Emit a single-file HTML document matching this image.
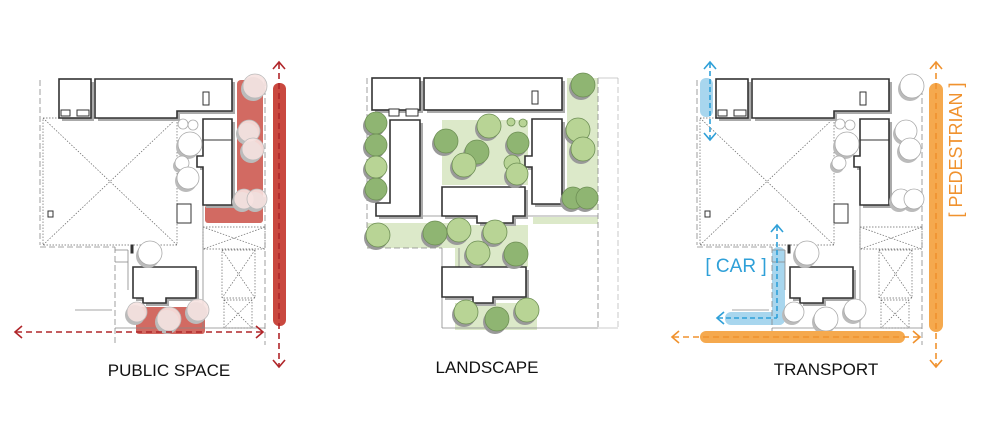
<!DOCTYPE html>
<html><head><meta charset="utf-8"><style>
html,body{margin:0;padding:0;background:#fff;width:1000px;height:435px;overflow:hidden}
svg{display:block}
.lbl{font-family:"Liberation Sans",sans-serif;font-size:17px;fill:#111}
</style></head><body>
<svg width="1000" height="435" viewBox="0 0 1000 435" xmlns="http://www.w3.org/2000/svg">
<defs>
<g id="base">
  <g fill="none" stroke="#666" stroke-width="0.7" stroke-dasharray="1.5 1.5">
    <rect x="43" y="118" width="134" height="127"/>
    <line x1="43" y1="118" x2="177" y2="245"/><line x1="177" y1="118" x2="43" y2="245"/>
    <rect x="203" y="227" width="62" height="22"/><line x1="203" y1="227" x2="265" y2="249"/><line x1="265" y1="227" x2="203" y2="249"/>
    <rect x="222" y="250" width="33" height="48"/><line x1="222" y1="250" x2="255" y2="298"/><line x1="255" y1="250" x2="222" y2="298"/>
    <rect x="224" y="300" width="28" height="28"/><line x1="224" y1="300" x2="252" y2="328"/><line x1="252" y1="300" x2="224" y2="328"/>
  </g>
  <g fill="none" stroke="#888" stroke-width="0.8">
    <line x1="40" y1="80" x2="40" y2="245" stroke-dasharray="6 3"/>
    <line x1="40" y1="247" x2="115" y2="247" stroke-dasharray="6 3"/>
    <line x1="115" y1="247" x2="115" y2="345" stroke-dasharray="6 3"/>
    <line x1="265" y1="80" x2="265" y2="345" stroke-dasharray="6 3"/>
    <line x1="115" y1="328" x2="265" y2="328"/>
    <line x1="203" y1="205" x2="203" y2="328"/>
    <line x1="75" y1="310" x2="112" y2="310"/>
    <line x1="115" y1="250" x2="128" y2="250"/><line x1="115" y1="262" x2="128" y2="262"/><line x1="128" y1="250" x2="128" y2="290"/>
  </g>
  <g fill="#aaa">
    <rect x="62" y="82" width="32" height="39"/>
    <path d="M98 82 H235 V114 H180 V121 H98 Z"/>
    <path d="M206 122 H235 V208 H206 V170 H200 V159 H206 Z"/>
    <path d="M136 270 H199 V301 H169 V306 H146 V301 H136 Z"/>
  </g>
  <g fill="#fff" stroke="#333" stroke-width="1.6">
    <rect x="59" y="79" width="32" height="39"/>
    <path d="M95 79 H232 V111 H177 V118 H95 Z"/>
    <path d="M203 119 H232 V205 H203 V167 H197 V156 H203 Z"/>
    <path d="M133 267 H196 V298 H166 V303 H143 V298 H133 Z"/>
  </g>
  <g fill="#fff" stroke="#333" stroke-width="1">
    <rect x="61" y="110" width="9" height="6"/><rect x="77" y="110" width="12" height="6"/>
    <rect x="203" y="92" width="6" height="13"/>
    <rect x="48" y="211" width="5" height="6"/>
    <rect x="177" y="204" width="14" height="19"/>
    <line x1="203" y1="140" x2="232" y2="140"/>
    <rect x="131" y="245" width="2" height="8" fill="#333"/>
  </g>
</g>
</defs>

<!-- ========== PANEL 1 ========== -->
<rect x="237" y="80" width="26" height="143" rx="4" fill="#d26a62"/>
<rect x="205" y="205" width="58" height="18" rx="3" fill="#d26a62"/>
<rect x="136" y="307" width="69" height="27" rx="3" fill="#d26a62"/>
<use href="#base"/>
<g>
<g fill="#bbb">
<circle cx="253" cy="89" r="12"/><circle cx="247" cy="134" r="11"/><circle cx="251" cy="152" r="11"/><circle cx="242" cy="202" r="10"/><circle cx="255" cy="202" r="10"/><circle cx="188" cy="147" r="12"/><circle cx="180" cy="166" r="7"/><circle cx="186" cy="181" r="11"/><circle cx="148" cy="256" r="12"/><circle cx="135" cy="315" r="10"/><circle cx="167" cy="322" r="12"/><circle cx="196" cy="313" r="11"/>
</g>
<g fill="#f6e2e0" fill-opacity="0.9" stroke="#bbb" stroke-width="0.8">
<circle cx="255" cy="86" r="12"/><circle cx="249" cy="131" r="11"/><circle cx="253" cy="149" r="11"/><circle cx="244" cy="199" r="10"/><circle cx="257" cy="199" r="10"/><circle cx="137" cy="312" r="10"/><circle cx="169" cy="319" r="12"/><circle cx="198" cy="310" r="11"/>
</g>
<g fill="#fff" stroke="#aaa" stroke-width="0.8">
<circle cx="190" cy="144" r="12"/><circle cx="182" cy="163" r="7"/><circle cx="188" cy="178" r="11"/><circle cx="183" cy="124" r="5"/><circle cx="193" cy="125" r="5"/><circle cx="150" cy="253" r="12"/>
</g>
</g>
<rect x="273" y="83" width="13" height="243" rx="6" fill="#c9483f"/>
<g stroke="#b0262a" stroke-width="1.6" fill="none">
<line x1="279" y1="63" x2="279" y2="366" stroke-dasharray="6 4"/>
<polyline points="273,69 279,62 285,69"/><polyline points="273,360 279,367 285,360"/>
<line x1="16" y1="332" x2="262" y2="332" stroke-dasharray="6 4"/>
<polyline points="22,326 15,332 22,338"/><polyline points="256,326 263,332 256,338"/>
</g>
<text class="lbl" x="169" y="376" text-anchor="middle">PUBLIC SPACE</text>

<!-- ========== PANEL 2 ========== -->
<g fill="#dce9c9">
<rect x="442" y="120" width="86" height="65"/>
<rect x="567" y="78" width="31" height="132"/>
<rect x="533" y="217" width="65" height="7"/>
<rect x="367" y="223" width="88" height="25"/>
<rect x="455" y="225" width="73" height="42"/>
<rect x="455" y="303" width="82" height="27"/>
</g>
<g fill="none" stroke="#888" stroke-width="0.8">
<line x1="598" y1="78" x2="598" y2="328" stroke-dasharray="6 3"/>
<line x1="618" y1="78" x2="618" y2="328" stroke-dasharray="6 3" stroke="#bbb"/>
<line x1="598" y1="78" x2="618" y2="78" stroke="#bbb"/><line x1="598" y1="328" x2="618" y2="328" stroke="#bbb"/>
<line x1="442" y1="328" x2="598" y2="328"/>
<line x1="442" y1="248" x2="442" y2="328"/>
<line x1="367" y1="248" x2="442" y2="248" stroke-dasharray="6 3"/>
<line x1="367" y1="78" x2="367" y2="248" stroke-dasharray="6 3"/>
<line x1="420" y1="216" x2="598" y2="216"/>
<line x1="459" y1="248" x2="459" y2="267"/>
</g>
<g fill="#aaa">
<rect x="375" y="81" width="48" height="32"/>
<rect x="427" y="81" width="138" height="32"/>
<path d="M393 123 H423 V219 H379 V206 H393 Z"/>
<path d="M445 190 H528 V219 H516 V226 H480 V219 H445 Z"/>
<path d="M535 122 H565 V207 H535 V170 H528 V159 H535 Z"/>
<path d="M445 270 H529 V300 H496 V306 H476 V300 H445 Z"/>
</g>
<g fill="#fff" stroke="#333" stroke-width="1.6">
<rect x="372" y="78" width="48" height="32"/>
<rect x="424" y="78" width="138" height="32"/>
<path d="M390 120 H420 V216 H376 V203 H390 Z"/>
<path d="M442 187 H525 V216 H513 V223 H477 V216 H442 Z"/>
<path d="M532 119 H562 V204 H532 V167 H525 V156 H532 Z"/>
<path d="M442 267 H526 V297 H493 V303 H473 V297 H442 Z"/>
</g>
<g fill="#fff" stroke="#333" stroke-width="1">
<rect x="389" y="109" width="10" height="7"/><rect x="406" y="109" width="12" height="7"/>
<rect x="532" y="91" width="6" height="13"/>
</g>
<g fill="#999">
<circle cx="374" cy="126" r="11"/><circle cx="374" cy="148" r="11"/><circle cx="374" cy="170" r="11"/><circle cx="374" cy="192" r="11"/><circle cx="444" cy="144" r="12"/><circle cx="487" cy="129" r="12"/><circle cx="475" cy="155" r="12"/><circle cx="462" cy="168" r="12"/><circle cx="516" cy="146" r="11"/><circle cx="515" cy="177" r="11"/><circle cx="581" cy="88" r="12"/><circle cx="576" cy="133" r="12"/><circle cx="581" cy="152" r="12"/><circle cx="571" cy="201" r="11"/><circle cx="585" cy="201" r="11"/><circle cx="376" cy="238" r="12"/><circle cx="433" cy="236" r="12"/><circle cx="457" cy="233" r="12"/><circle cx="493" cy="235" r="12"/><circle cx="476" cy="256" r="12"/><circle cx="514" cy="257" r="12"/><circle cx="464" cy="315" r="12"/><circle cx="495" cy="322" r="12"/><circle cx="525" cy="313" r="12"/>
</g>
<g stroke="#6e8f55" stroke-width="0.8">
<g fill="#8fb572">
<circle cx="376" cy="123" r="11"/><circle cx="376" cy="145" r="11"/><circle cx="376" cy="189" r="11"/><circle cx="446" cy="141" r="12"/><circle cx="477" cy="152" r="12"/><circle cx="518" cy="143" r="11"/><circle cx="583" cy="85" r="12"/><circle cx="573" cy="198" r="11"/><circle cx="587" cy="198" r="11"/><circle cx="435" cy="233" r="12"/><circle cx="516" cy="254" r="12"/><circle cx="497" cy="319" r="12"/>
</g>
<g fill="#b8d495">
<circle cx="376" cy="167" r="11"/><circle cx="489" cy="126" r="12"/><circle cx="464" cy="165" r="12"/><circle cx="512" cy="163" r="8"/><circle cx="517" cy="174" r="11"/><circle cx="511" cy="122" r="4"/><circle cx="523" cy="123" r="4"/><circle cx="578" cy="130" r="12"/><circle cx="583" cy="149" r="12"/><circle cx="378" cy="235" r="12"/><circle cx="459" cy="230" r="12"/><circle cx="495" cy="232" r="12"/><circle cx="478" cy="253" r="12"/><circle cx="466" cy="312" r="12"/><circle cx="527" cy="310" r="12"/>
</g>
</g>
<text class="lbl" x="487" y="373" text-anchor="middle">LANDSCAPE</text>

<!-- ========== PANEL 3 ========== -->
<rect x="700" y="78" width="13" height="39" rx="6" fill="#a8d6ee"/>
<rect x="772" y="247" width="13" height="78" rx="6" fill="#a8d6ee"/>
<rect x="725" y="312" width="60" height="13" rx="6" fill="#a8d6ee"/>
<g transform="translate(657,0)"><use href="#base"/></g>
<g transform="translate(657,0)">
<g fill="#bbb">
<circle cx="253" cy="89" r="12"/><circle cx="247" cy="134" r="11"/><circle cx="251" cy="152" r="11"/><circle cx="242" cy="202" r="10"/><circle cx="255" cy="202" r="10"/><circle cx="188" cy="147" r="12"/><circle cx="180" cy="166" r="7"/><circle cx="148" cy="256" r="12"/><circle cx="135" cy="315" r="10"/><circle cx="167" cy="322" r="12"/><circle cx="196" cy="313" r="11"/>
</g>
<g fill="#fff" stroke="#aaa" stroke-width="0.8">
<circle cx="255" cy="86" r="12"/><circle cx="249" cy="131" r="11"/><circle cx="253" cy="149" r="11"/><circle cx="244" cy="199" r="10"/><circle cx="257" cy="199" r="10"/><circle cx="137" cy="312" r="10"/><circle cx="169" cy="319" r="12"/><circle cx="198" cy="310" r="11"/>
<circle cx="190" cy="144" r="12"/><circle cx="182" cy="163" r="7"/><circle cx="183" cy="124" r="5"/><circle cx="193" cy="125" r="5"/><circle cx="150" cy="253" r="12"/>
</g>
</g>
<rect x="929" y="83" width="14" height="249" rx="7" fill="#f5a94e"/>
<rect x="700" y="331" width="205" height="12" rx="6" fill="#f5a94e"/>
<g stroke="#2fa0d8" stroke-width="1.6" fill="none">
<line x1="710" y1="63" x2="710" y2="139" stroke-dasharray="5 3"/>
<polyline points="704,69 710,62 716,69"/><polyline points="704,133 710,140 716,133"/>
<line x1="777" y1="226" x2="777" y2="318" stroke-dasharray="5 3"/>
<polyline points="771,232 777,225 783,232"/>
<line x1="718" y1="318" x2="777" y2="318" stroke-dasharray="5 3"/>
<polyline points="724,312 717,318 724,324"/>
</g>
<g stroke="#f0922e" stroke-width="1.6" fill="none">
<line x1="936" y1="63" x2="936" y2="366" stroke-dasharray="6 4"/>
<polyline points="930,69 936,62 942,69"/><polyline points="930,360 936,367 942,360"/>
<line x1="673" y1="337" x2="919" y2="337" stroke-dasharray="6 4"/>
<polyline points="679,331 672,337 679,343"/><polyline points="913,331 920,337 913,343"/>
</g>
<text x="736" y="272" text-anchor="middle" font-family="Liberation Sans, sans-serif" font-size="19" fill="#2fa0d8">[ CAR ]</text>
<text transform="translate(962,150) rotate(-90)" text-anchor="middle" font-family="Liberation Sans, sans-serif" font-size="18" fill="#f0922e">[ PEDESTRIAN ]</text>
<text class="lbl" x="826" y="375" text-anchor="middle">TRANSPORT</text>
</svg>
</body></html>
